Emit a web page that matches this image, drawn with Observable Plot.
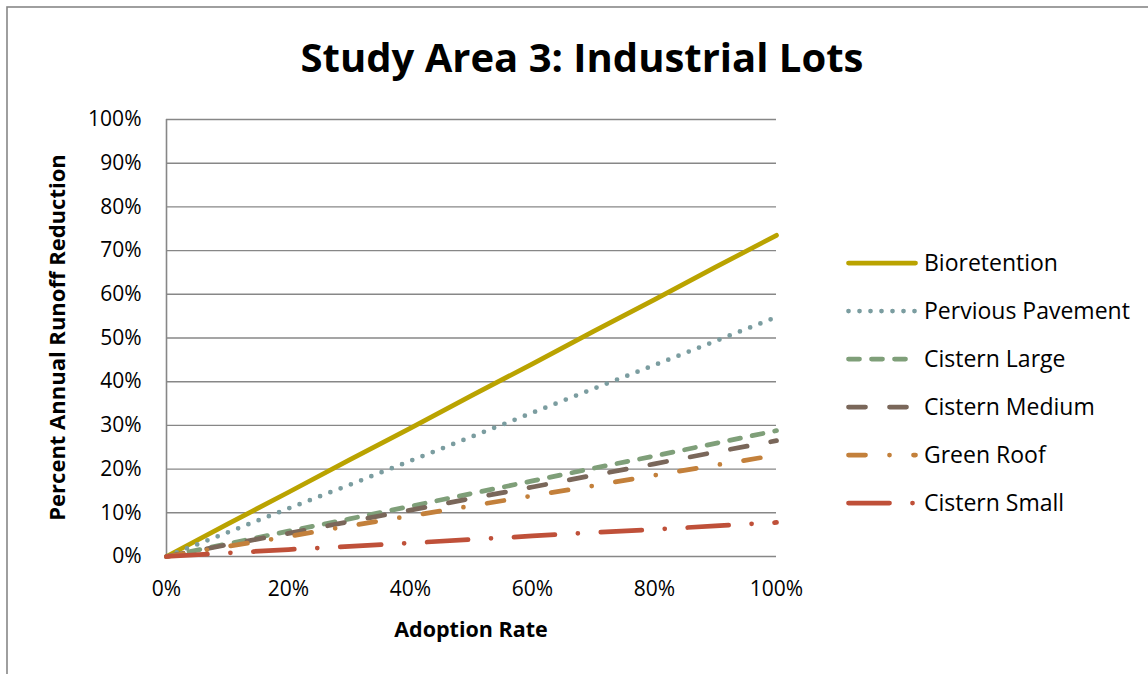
<!DOCTYPE html>
<html>
<head>
<meta charset="utf-8">
<script src="https://cdn.jsdelivr.net/npm/d3@7"></script>
<script src="https://cdn.jsdelivr.net/npm/@observablehq/plot@0.6"></script>
<style>
  html, body { margin: 0; padding: 0; background: #ffffff; }
  #chart { width: 1148px; height: 674px; overflow: hidden; }
</style>
</head>
<body>
<div id="chart"></div>
<script>
// Adoption rate (x) and percent annual runoff reduction for each practice
const adoption = [0, 0.1, 0.2, 0.3, 0.4, 0.5, 0.6, 0.7, 0.8, 0.9, 1.0];
const bioretention    = [0, 0.074, 0.147, 0.221, 0.294, 0.368, 0.441, 0.515, 0.588, 0.662, 0.735];
const perviousPavement = [0, 0.055, 0.110, 0.164, 0.219, 0.274, 0.329, 0.384, 0.438, 0.493, 0.548];
const cisternLarge    = [0, 0.029, 0.058, 0.086, 0.115, 0.144, 0.173, 0.202, 0.230, 0.259, 0.288];
const cisternMedium   = [0, 0.027, 0.053, 0.080, 0.106, 0.133, 0.159, 0.186, 0.212, 0.239, 0.265];
const greenRoof       = [0, 0.023, 0.046, 0.070, 0.093, 0.116, 0.139, 0.162, 0.186, 0.209, 0.232];
const cisternSmall    = [0, 0.008, 0.016, 0.023, 0.031, 0.039, 0.047, 0.055, 0.062, 0.070, 0.078];

const seriesNames = ["Bioretention", "Pervious Pavement", "Cistern Large", "Cistern Medium", "Green Roof", "Cistern Small"];
const seriesValues = [bioretention, perviousPavement, cisternLarge, cisternMedium, greenRoof, cisternSmall];

const xTicks = [0, 0.2, 0.4, 0.6, 0.8, 1.0];
const yTicks = [0, 0.1, 0.2, 0.3, 0.4, 0.5, 0.6, 0.7, 0.8, 0.9, 1.0];

const titleText = "Study Area 3: Industrial Lots";
const xTitle = "Adoption Rate";
const yTitle = "Percent Annual Runoff Reduction";

// Line styles per series
const styles = {
  "Bioretention":      {stroke: "#BAA300", dash: null},
  "Pervious Pavement": {stroke: "#7B9DA0", dash: "0 11"},
  "Cistern Large":     {stroke: "#7F9F79", dash: "11 12"},
  "Cistern Medium":    {stroke: "#7A675A", dash: "17 24"},
  "Green Roof":        {stroke: "#C3803B", dash: "17 24 0 24"},
  "Cistern Small":     {stroke: "#BF5039", dash: "41 23 0 23"}
};
const lineWidth = 4.75;

const rows = seriesNames.flatMap((name, i) =>
  adoption.map((a, j) => ({series: name, adoption: a, value: seriesValues[i][j]}))
);

const W = 1148, H = 674;
const gridColor = "#878787";
const font = "'Open Sans', Lato, sans-serif";

const plot = Plot.plot({
  width: W,
  height: H,
  marginLeft: 166,
  marginRight: 372,
  marginTop: 119,
  marginBottom: 118,
  style: {fontFamily: font, fontSize: "21px", color: "#000", background: "#fff"},
  x: {domain: [0, 1]},
  y: {domain: [0, 1]},
  marks: [
    Plot.gridY(yTicks, {stroke: gridColor, strokeOpacity: 1, strokeWidth: 1.4}),
    Plot.ruleX([0], {stroke: gridColor, strokeWidth: 1.6}),
    Plot.axisY(yTicks, {tickSize: 0, tickPadding: 25, tickFormat: d3.format(".0%"), label: null, fill: "#000"}),
    Plot.axisX(xTicks, {tickSize: 0, tickPadding: 25, tickFormat: d3.format(".0%"), label: null, fill: "#000"}),
    ...seriesNames.map(name => Plot.line(rows.filter(d => d.series === name), {
      x: "adoption",
      y: "value",
      stroke: styles[name].stroke,
      strokeWidth: lineWidth,
      strokeDasharray: styles[name].dash,
      strokeLinecap: "round",
      strokeLinejoin: "round"
    }))
  ]
});

document.getElementById("chart").appendChild(plot);

const svg = d3.select(plot);
const sx = plot.scale("x"), sy = plot.scale("y");
const plotLeft = sx.apply(0), plotRight = sx.apply(1);
const plotTop = sy.apply(1), plotBottom = sy.apply(0);

// Outer chart frame (extends past the right and bottom edges)
svg.insert("rect", ":first-child")
  .attr("x", 7).attr("y", 7).attr("width", W + 40).attr("height", H + 40)
  .attr("fill", "none").attr("stroke", gridColor).attr("stroke-width", 1.6);

// Title
svg.append("text")
  .attr("x", 582).attr("y", 72)
  .attr("text-anchor", "middle")
  .attr("font-family", font)
  .attr("font-weight", "bold")
  .attr("font-size", 40)
  .attr("fill", "#000")
  .text(titleText);

// Axis titles
svg.append("text")
  .attr("x", (plotLeft + plotRight) / 2).attr("y", 637)
  .attr("text-anchor", "middle")
  .attr("font-family", font)
  .attr("font-weight", "bold")
  .attr("font-size", 21.5)
  .attr("fill", "#000")
  .text(xTitle);

svg.append("text")
  .attr("transform", `translate(65,${(plotTop + plotBottom) / 2}) rotate(-90)`)
  .attr("text-anchor", "middle")
  .attr("font-family", font)
  .attr("font-weight", "bold")
  .attr("font-size", 22)
  .attr("fill", "#000")
  .text(yTitle);

// Legend
const legend = svg.append("g")
  .attr("font-family", font)
  .attr("font-size", 23)
  .attr("text-anchor", "start");
seriesNames.forEach((name, i) => {
  const y = 263 + i * 48;
  legend.append("line")
    .attr("x1", 848.5).attr("x2", 915.5).attr("y1", y).attr("y2", y)
    .attr("stroke", styles[name].stroke)
    .attr("stroke-width", lineWidth)
    .attr("stroke-linecap", "round")
    .attr("stroke-dasharray", styles[name].dash);
  legend.append("text")
    .attr("x", 924).attr("y", y)
    .attr("dy", "0.35em")
    .attr("text-anchor", "start")
    .attr("fill", "#000")
    .text(name);
});
</script>
</body>
</html>
